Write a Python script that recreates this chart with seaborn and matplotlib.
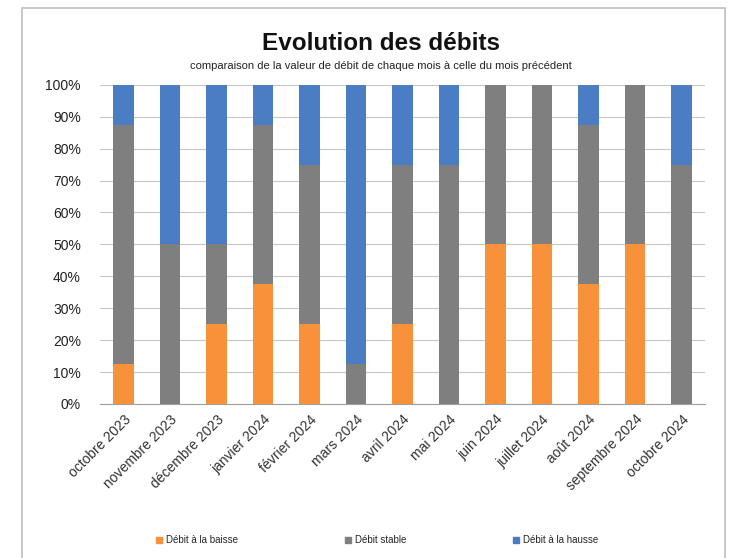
import numpy as np
import pandas as pd
import seaborn as sns
import matplotlib.pyplot as plt
from matplotlib.patches import Rectangle
from matplotlib.ticker import PercentFormatter

# months and share (%) of stations per category
mois = ["octobre 2023", "novembre 2023", "décembre 2023", "janvier 2024", "février 2024",
        "mars 2024", "avril 2024", "mai 2024", "juin 2024", "juillet 2024", "août 2024",
        "septembre 2024", "octobre 2024"]
baisse = [12.5, 0, 25, 37.5, 25, 0, 25, 0, 50, 50, 37.5, 50, 0]
stable = [75, 50, 25, 50, 50, 12.5, 50, 75, 50, 50, 50, 50, 75]
hausse = [12.5, 50, 50, 12.5, 25, 87.5, 25, 25, 0, 0, 12.5, 0, 25]

series = ["Débit à la baisse", "Débit stable", "Débit à la hausse"]
colors = ["#F7923A", "#7F7F7F", "#4A7DC3"]

df = pd.DataFrame({"mois": mois, "baisse": baisse, "stable": stable, "hausse": hausse})
df["cum_stable"] = df["baisse"] + df["stable"]
df["cum_hausse"] = df["cum_stable"] + df["hausse"]

sns.set_style("white")
plt.rcParams["font.family"] = ["Liberation Sans", "DejaVu Sans"]

fig = plt.figure(figsize=(7.32, 5.58), dpi=100)
ax = fig.add_axes([0.137, 0.276, 0.826, 0.572])

# stacked bars: draw the cumulative totals from the top down
for col, c in zip(["cum_hausse", "cum_stable", "baisse"], colors[::-1]):
    sns.barplot(data=df, x="mois", y=col, color=c, width=0.44, ax=ax,
                saturation=1, linewidth=0, zorder=3)

ax.set_ylim(0, 100)
ax.set_xlim(-0.5, len(mois) - 0.5)
ax.set_yticks(np.arange(0, 101, 10))
ax.yaxis.set_major_formatter(PercentFormatter(decimals=0))
ax.grid(axis="y", color="#C8C8C8", linewidth=0.8, zorder=0)
ax.set_xlabel("")
ax.set_ylabel("")
for s in ["top", "right", "left"]:
    ax.spines[s].set_visible(False)
ax.spines["bottom"].set_color("#A0A0A0")
ax.tick_params(axis="y", length=0, labelsize=10, pad=14, colors="#222222")
ax.set_xticks(np.arange(len(mois)))
ax.set_xticklabels(mois, rotation=45, ha="right", rotation_mode="anchor",
                   fontsize=10, color="#333333")
ax.tick_params(axis="x", length=0, pad=6)
# tick marks at category boundaries
ax.set_xticks(np.arange(-0.5, len(mois)), minor=True)
ax.tick_params(axis="x", which="minor", length=5, color="#A0A0A0", direction="out")

fig.text(0.52, 0.922, "Evolution des débits", ha="center", va="center",
         fontsize=17.5, fontweight="bold", color="#111111")
fig.text(0.52, 0.882, "comparaison de la valeur de débit de chaque mois à celle du mois précédent",
         ha="center", va="center", fontsize=8, color="#222222")

handles = [Rectangle((0, 0), 1, 1, color=c) for c in colors]
fig.legend(handles, series, loc="center", bbox_to_anchor=(0.515, 0.032), ncol=3,
           frameon=False, fontsize=7, handlelength=0.6, handleheight=0.6,
           handletextpad=0.4, columnspacing=11)

# chart frame
fig.patches.append(Rectangle((22 / 732, -0.02), 703 / 732, 1 - 8 / 558 + 0.02,
                             transform=fig.transFigure, fill=False,
                             edgecolor="#BFBFBF", linewidth=1.2))

fig.savefig("out.png", dpi=100)
